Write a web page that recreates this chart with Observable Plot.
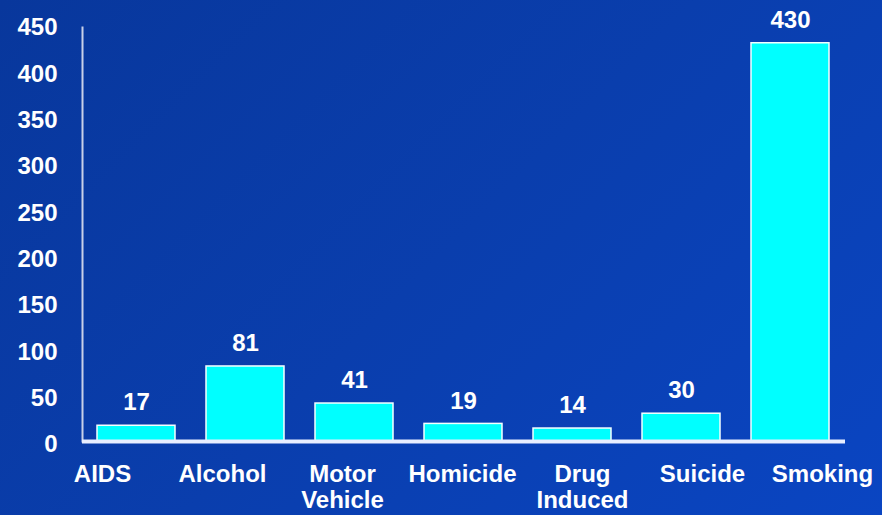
<!DOCTYPE html>
<html>
<head>
<meta charset="utf-8">
<script src="https://cdn.jsdelivr.net/npm/d3@7"></script>
<script src="https://cdn.jsdelivr.net/npm/@observablehq/plot@0.6"></script>
<style>
  html, body { margin: 0; padding: 0; }
  #chart {
    position: relative; width: 882px; height: 515px; overflow: hidden;
    background: linear-gradient(135deg, #08379c 0%, #0a3ead 50%, #0a45c2 100%);
  }
  #chart svg { position: absolute; left: 0; top: 0; }
</style>
</head>
<body>
<div id="chart"></div>
<script>
const categories = ["AIDS", "Alcohol", "Motor Vehicle", "Homicide", "Drug Induced", "Suicide", "Smoking"];
const axisLabels = ["AIDS", "Alcohol", "Motor\nVehicle", "Homicide", "Drug\nInduced", "Suicide", "Smoking"];
const values = [17, 81, 41, 19, 14, 30, 430];
const yTicks = [0, 50, 100, 150, 200, 250, 300, 350, 400, 450];

const data = categories.map((c, i) => ({category: c, value: values[i]}));
const labelData = categories.map((c, i) => ({category: c, label: axisLabels[i]}));

const font = "'Liberation Sans', Arial, Helvetica, sans-serif";

const main = Plot.plot({
  width: 882,
  height: 515,
  marginLeft: 82,
  marginRight: 37,
  marginTop: 27,
  marginBottom: 74,
  style: {background: "transparent", fontFamily: font, color: "white"},
  x: {type: "band", domain: categories, paddingInner: 0.28, paddingOuter: 0.14, axis: null},
  y: {domain: [0, 447], ticks: yTicks, label: null},
  marks: [
    Plot.axisY({ticks: yTicks, tickSize: 0, tickPadding: 25, fontSize: 24, fontWeight: "bold", fill: "white", dy: 3, label: null}),
    Plot.barY(data, {x: "category", y: "value", fill: "#00ffff", stroke: "#f4ffff", strokeWidth: 1.5}),
    Plot.text(data, {x: "category", y: "value", text: d => String(d.value), dy: -23, fill: "white", fontSize: 24, fontWeight: "bold"}),
    Plot.frame({anchor: "left", stroke: "#c8d0e8", strokeWidth: 2}),
    Plot.ruleY([0], {stroke: "#e8eeff", strokeWidth: 4})
  ]
});

const labels = Plot.plot({
  width: 882,
  height: 515,
  marginLeft: 0,
  marginRight: 0,
  marginTop: 464,
  marginBottom: 0,
  style: {background: "transparent", fontFamily: font, color: "white", overflow: "visible"},
  x: {type: "point", domain: categories, range: [100, 824], padding: 0, axis: null},
  y: {axis: null},
  marks: [
    Plot.text(labelData, {x: "category", text: "label", frameAnchor: "top", lineAnchor: "top", lineHeight: 1.05, fill: "white", fontSize: 24, fontWeight: "bold"})
  ]
});

const el = document.getElementById("chart");
el.appendChild(main);
el.appendChild(labels);
</script>
</body>
</html>
